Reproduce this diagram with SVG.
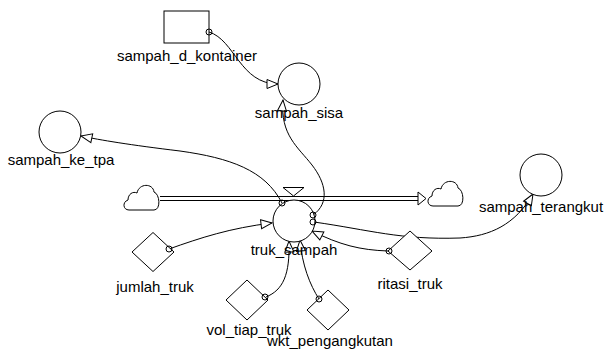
<svg xmlns="http://www.w3.org/2000/svg" width="608" height="350" viewBox="0 0 608 350">
<style>
.shape{fill:#fff;stroke:#000;stroke-width:1}
.lbl{font-family:"Liberation Sans",Arial,sans-serif;font-size:15px;fill:#000;text-anchor:middle}
.link{fill:none;stroke:#000;stroke-width:1;marker-end:url(#arr)}
.dot{fill:none;stroke:#000;stroke-width:1}
.pipe{fill:none;stroke:#000;stroke-width:1}
</style>
<defs>
<marker id="arr" markerUnits="userSpaceOnUse" markerWidth="14" markerHeight="12" refX="11" refY="4.5" orient="auto" viewBox="-1 -1 14 11">
<path d="M0,0 L11,4.5 L0,9 Z" fill="#fff" stroke="#000" stroke-width="1"/>
</marker>
<path id="cloud" d="M7,29 C1,29 0,21 6,19 C6,13 11,10 15,12 C17,2 31,2 32,11 C38,13 39,29 32,29 Z"/>
</defs>
<rect width="608" height="350" fill="#fff"/>

<g id="connectors">
<path class="link" d="M209,32 C235,40 240,84 278,84"/>
<path class="link" d="M313,215 C330,203 326,183 312,165 C298,147 280,135 283,100"/>
<path class="link" d="M314,222 C370,230 400,240 460,238 C490,236 515,225 533,194"/>
<path class="link" d="M282,203 C265,170 230,158 180,151 C130,145 100,140 81,136"/>
<path class="link" d="M169,249 C200,238 230,228 272,223"/>
<path class="link" d="M388,251 C360,250 340,245 312,231"/>
<path class="link" d="M266,297 C283,290 290,275 289,241"/>
<path class="link" d="M319,299 C310,285 302,265 300,240"/>
</g>

<g id="flow">
<use href="#cloud" x="122" y="181" class="shape"/>
<use href="#cloud" x="426" y="177" class="shape"/>
<line class="pipe" x1="160" y1="196.5" x2="420" y2="196.5"/>
<line class="pipe" x1="160" y1="200.5" x2="420" y2="200.5"/>
<path d="M418,192 L426,198.5 L418,205 Z" class="shape"/>
<path d="M283,187.5 L304,187.5 L293.5,196 Z" class="shape"/>
</g>

<g id="sampah_d_kontainer">
<rect class="shape" x="164" y="11" width="45" height="32"/>
<circle class="dot" cx="209" cy="32" r="3"/>
<text class="lbl" x="187" y="61">sampah_d_kontainer</text>
</g>

<g id="sampah_sisa">
<circle class="shape" cx="299" cy="84" r="21"/>
<text class="lbl" x="299" y="118">sampah_sisa</text>
</g>

<g id="sampah_ke_tpa">
<circle class="shape" cx="60" cy="132" r="21"/>
<text class="lbl" x="61" y="165">sampah_ke_tpa</text>
</g>

<g id="sampah_terangkut">
<circle class="shape" cx="541" cy="175" r="21"/>
<text class="lbl" x="541" y="212">sampah_terangkut</text>
</g>

<g id="truk_sampah">
<circle class="shape" cx="294" cy="221" r="21"/>
<circle class="dot" cx="282" cy="203" r="3"/>
<circle class="dot" cx="313" cy="215" r="3"/>
<circle class="dot" cx="313" cy="222" r="3"/>
<text class="lbl" x="294" y="255">truk_sampah</text>
</g>

<g id="jumlah_truk">
<path class="shape" d="M153,232.5 L174,252 L153,271.5 L132,252 Z"/>
<circle class="dot" cx="169" cy="249" r="3"/>
<text class="lbl" x="155" y="292">jumlah_truk</text>
</g>

<g id="ritasi_truk">
<path class="shape" d="M410,231 L432,251 L410,270 L388,251 Z"/>
<circle class="dot" cx="389" cy="251" r="3"/>
<text class="lbl" x="410" y="289">ritasi_truk</text>
</g>

<g id="vol_tiap_truk">
<path class="shape" d="M247,280 L268,300 L247,320 L226,300 Z"/>
<circle class="dot" cx="265" cy="297" r="3"/>
<text class="lbl" x="249" y="335">vol_tiap_truk</text>
</g>

<g id="wkt_pengangkutan">
<path class="shape" d="M328,290 L349,310 L328,330 L307,310 Z"/>
<circle class="dot" cx="319" cy="299" r="3"/>
<text class="lbl" x="330" y="346">wkt_pengangkutan</text>
</g>
</svg>
